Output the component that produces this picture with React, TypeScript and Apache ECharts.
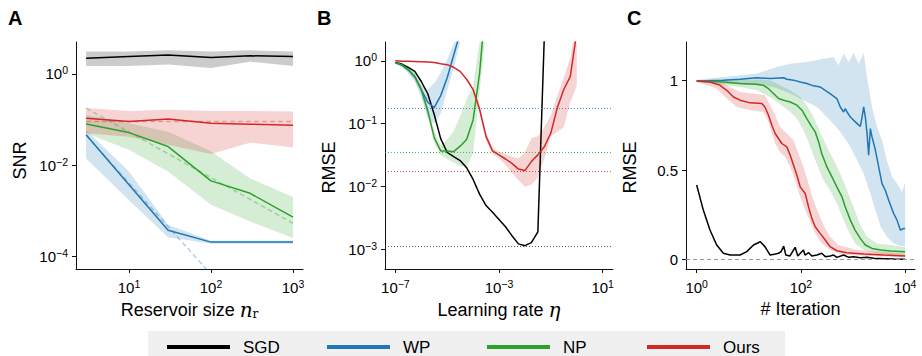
import React, { useEffect, useRef } from 'react';
import * as echarts from 'echarts';

const FONT = '"Liberation Sans", Arial, Helvetica, sans-serif';
const SERIF = '"DejaVu Serif", "Liberation Serif", serif';

const C_SGD = '#000000';
const C_WP = '#1f77b4';
const C_NP = '#2ca02c';
const C_OURS = '#d62728';

// ---------------- Panel A: SNR vs reservoir size ----------------
const reservoirSizes = [3, 10, 30, 100, 300, 1000];
const snrSGD = [2.2, 2.4, 2.6, 2.3, 2.5, 2.4];
const snrSGDLow = [1.5, 1.5, 1.6, 1.35, 1.85, 1.5];
const snrSGDHigh = [3.1, 3.1, 3.3, 3.1, 3.3, 3.1];
const snrWP = [0.046, 0.0037, 0.00037, 0.000204, 0.000204, 0.000204];
const snrWPLow = [0.014, 0.0017, 0.00026, 0.000187, 0.000187, 0.000187];
const snrWPHigh = [0.059, 0.0072, 0.00049, 0.00022, 0.00022, 0.00022];
const snrNP = [0.08, 0.0516, 0.0255, 0.0045, 0.0024, 0.00072];
const snrNPLow = [0.05, 0.0216, 0.0072, 0.00134, 0.00058, 0.00025];
const snrNPHigh = [0.126, 0.083, 0.054, 0.02, 0.0051, 0.002];
const snrOurs = [0.107, 0.09, 0.103, 0.083, 0.079, 0.075];
const snrOursLow = [0.05, 0.042, 0.028, 0.0176, 0.031, 0.0244];
const snrOursHigh = [0.178, 0.154, 0.163, 0.154, 0.154, 0.149];
const theoryNP = [[3, 0.177], [1000, 0.00053]];
const theoryWP = [[3, 0.045], [1000, 4e-7]];
const theoryOurs = [[3, 0.09], [1000, 0.09]];
const ticksA_x = [1, 2, 3];
const ticksA_y = [-4, -2, 0];

// ---------------- Panel B: RMSE vs learning rate ----------------
const learningRates = [
  1e-7, 1.78e-7, 3.16e-7, 5.62e-7, 1e-6, 1.78e-6, 3.16e-6, 5.62e-6, 1e-5, 1.78e-5,
  3.16e-5, 5.62e-5, 1e-4, 1.78e-4, 3.16e-4, 5.62e-4, 1e-3, 1.78e-3, 3.16e-3, 5.62e-3,
  1e-2, 1.78e-2, 3.16e-2, 5.62e-2, 1e-1, 0.178, 0.316, 0.562, 1,
];
const rmseSGD = [0.94, 0.89, 0.79, 0.68, 0.47, 0.3, 0.14, 0.058, 0.035, 0.03, 0.026, 0.02, 0.013, 0.0076, 0.005, 0.0039, 0.003, 0.0023, 0.00166, 0.00123, 0.00115, 0.00129, 0.0019, 2.5];
const rmseWP = [0.93, 0.85, 0.72, 0.56, 0.35, 0.22, 0.18, 0.28, 0.54, 1.23, 2.8];
const rmseWPLow = [0.91, 0.81, 0.63, 0.47, 0.26, 0.126, 0.1, 0.145, 0.34, 0.76, 2.0];
const rmseWPHigh = [0.98, 0.89, 0.76, 0.63, 0.42, 0.35, 0.44, 0.65, 1.05, 1.82, 4.0];
const rmseNP = [0.93, 0.87, 0.72, 0.56, 0.35, 0.16, 0.06, 0.037, 0.037, 0.036, 0.044, 0.056, 0.115, 0.63, 10];
const rmseNPLow = [0.91, 0.83, 0.68, 0.5, 0.3, 0.13, 0.05, 0.032, 0.0275, 0.024, 0.021, 0.021, 0.034, 0.32, 3.2];
const rmseNPHigh = [0.95, 0.93, 0.79, 0.63, 0.4, 0.19, 0.076, 0.045, 0.056, 0.076, 0.13, 0.24, 0.4, 2.0, 32];
const rmseOurs = [1.0, 0.99, 0.99, 0.98, 0.97, 0.955, 0.94, 0.9, 0.87, 0.79, 0.68, 0.51, 0.35, 0.17, 0.063, 0.037, 0.032, 0.0275, 0.0234, 0.019, 0.018, 0.025, 0.032, 0.043, 0.071, 0.18, 0.35, 0.56, 2.8];
const oursBandStart = 12; // band drawn from learningRates[12]
const rmseOursLow = [0.32, 0.15, 0.055, 0.033, 0.028, 0.022, 0.0166, 0.0126, 0.01, 0.0107, 0.014, 0.028, 0.063, 0.074, 0.089, 0.22, 0.4];
const rmseOursHigh = [0.38, 0.2, 0.072, 0.042, 0.036, 0.033, 0.03, 0.028, 0.035, 0.059, 0.063, 0.089, 0.135, 0.28, 0.54, 1.12, 4.0];
const bestRMSE = { SGD: 0.00113, WP: 0.177, NP: 0.0352, Ours: 0.0175 };
const ticksB_x = [-7, -3, 1];
const ticksB_y = [-3, -2, -1, 0];

// ---------------- Panel C: RMSE vs iteration ----------------
const iterSGD = [[1, 0.417], [1.34, 0.277], [1.8, 0.166], [2.42, 0.082], [3.25, 0.036], [4.37, 0.026], [6.81, 0.026], [9.16, 0.045], [12.3, 0.082], [16.6, 0.1], [20.4, 0.073], [25.7, 0.026], [32.4, 0.032], [37.2, 0.036], [41.7, 0.045], [46.8, 0.076], [51.3, 0.026], [61.7, 0.021], [77.6, 0.069], [87.1, 0.021], [112, 0.054], [120, 0.026], [141, 0.039], [162, 0.021], [204, 0.026], [251, 0.036], [295, 0.017], [363, 0.021], [427, 0.026], [490, 0.013], [661, 0.026], [832, 0.013], [1023, 0.017], [1380, 0.011], [1862, 0.013], [2512, 0.0074], [3890, 0.0056], [6026, 0.0037], [10000, 0.002]];
const iterOurs = [[1, 0.998], [1.8, 0.993], [2.81, 0.974], [3.77, 0.946], [5.07, 0.909], [6.81, 0.891], [10.6, 0.876], [17.8, 0.872], [20.4, 0.853], [23.9, 0.807], [27.7, 0.751], [32.1, 0.705], [37.2, 0.677], [43.1, 0.649], [53.7, 0.63], [62.4, 0.584], [72.3, 0.528], [83.8, 0.472], [97, 0.407], [121, 0.37], [140, 0.296], [162, 0.231], [188, 0.184], [234, 0.147], [293, 0.11], [363, 0.073], [490, 0.05], [759, 0.039], [1622, 0.032], [3890, 0.026], [10000, 0.021]];
const iterOursHigh = [[1, 1.003], [3.25, 0.984], [6.81, 0.937], [14.1, 0.925], [20.4, 0.919], [25.7, 0.863], [32.1, 0.807], [39.8, 0.742], [53.7, 0.704], [72.3, 0.667], [90.2, 0.593], [112, 0.518], [140, 0.425], [174, 0.332], [219, 0.258], [272, 0.193], [363, 0.128], [525, 0.082], [1202, 0.054], [10000, 0.035]];
const iterOursLow = [[1, 0.993], [2.42, 0.956], [3.77, 0.9], [5.89, 0.853], [10.6, 0.835], [19.1, 0.825], [23.9, 0.77], [27.7, 0.705], [32.1, 0.649], [39.8, 0.602], [49.9, 0.574], [62.4, 0.518], [77.8, 0.444], [97, 0.351], [121, 0.277], [151, 0.212], [188, 0.147], [251, 0.091], [363, 0.054], [661, 0.026], [10000, 0.013]];
const iterNP = [[1, 0.998], [3.25, 0.993], [6.81, 0.984], [14.1, 0.98], [19.1, 0.974], [23.9, 0.955], [29.8, 0.928], [37.2, 0.9], [46.8, 0.891], [62.4, 0.881], [83.8, 0.863], [105, 0.835], [130, 0.788], [162, 0.742], [188, 0.714], [219, 0.658], [251, 0.593], [316, 0.518], [394, 0.463], [490, 0.407], [614, 0.351], [708, 0.296], [891, 0.221], [1096, 0.165], [1380, 0.119], [1726, 0.082], [2317, 0.063], [3388, 0.054], [5248, 0.048], [10000, 0.045]];
const iterNPHigh = [[1, 1.003], [14.1, 1.007], [25.7, 1.003], [39.8, 0.974], [62.4, 0.946], [97, 0.909], [130, 0.863], [174, 0.798], [234, 0.714], [316, 0.63], [427, 0.556], [570, 0.481], [767, 0.388], [1023, 0.295], [1380, 0.193], [1862, 0.128], [2884, 0.091], [5248, 0.082], [10000, 0.069]];
const iterNPLow = [[1, 0.993], [6.81, 0.965], [14.1, 0.946], [22.1, 0.918], [32.1, 0.891], [46.8, 0.853], [62.4, 0.825], [83.8, 0.788], [112, 0.723], [140, 0.658], [174, 0.584], [219, 0.509], [272, 0.444], [363, 0.388], [490, 0.314], [661, 0.221], [832, 0.156], [1096, 0.091], [1622, 0.054], [2884, 0.035], [10000, 0.02]];
const iterWP = [[1, 0.998], [3.25, 1.003], [6.81, 1.008], [14.1, 1.016], [25.7, 1.012], [46.8, 1.016], [53.7, 1.008], [72.3, 1.003], [97, 0.993], [130, 0.984], [174, 0.971], [234, 0.965], [293, 0.946], [363, 0.928], [490, 0.9], [570, 0.853], [661, 0.825], [713, 0.844], [767, 0.825], [891, 0.797], [1107, 0.77], [1380, 0.745], [1479, 0.788], [1603, 0.853], [1726, 0.797], [1862, 0.704], [1995, 0.584], [2153, 0.732], [2317, 0.686], [2692, 0.611], [3112, 0.518], [3606, 0.425], [4169, 0.388], [4842, 0.332], [6026, 0.258], [6998, 0.221], [8128, 0.165], [9333, 0.174], [10000, 0.174]];
const iterWPHigh = [[1, 1.005], [3.25, 1.02], [14.1, 1.039], [34.5, 1.076], [62.4, 1.095], [130, 1.104], [272, 1.123], [427, 1.132], [525, 1.086], [661, 1.151], [826, 1.104], [1023, 1.155], [1288, 1.095], [1603, 1.155], [1862, 1.021], [2317, 0.853], [2884, 0.742], [3606, 0.667], [4467, 0.556], [5623, 0.463], [6998, 0.425], [8710, 0.38], [10000, 0.43]];
const iterWPLow = [[1, 0.993], [3.25, 0.984], [14.1, 0.974], [29.8, 0.965], [62.4, 0.928], [112, 0.891], [204, 0.853], [363, 0.779], [570, 0.714], [891, 0.63], [1202, 0.556], [1603, 0.481], [2153, 0.37], [2692, 0.277], [3388, 0.184], [4467, 0.128], [6026, 0.091], [8128, 0.076], [10000, 0.073]];
const ticksC_x = [0, 2, 4];
const ticksC_y = [0, 0.5, 1];

const legendNames = ['SGD', 'WP', 'NP', 'Ours'];

// ---------------- helpers ----------------
const lg = Math.log10;
const logXY = (xs: number[], ys: number[]) => ys.map((y, i) => [lg(xs[i]), lg(y)]);
const logPairs = (p: number[][]) => p.map(([x, y]) => [lg(x), lg(y)]);
const logXPairs = (p: number[][]) => p.map(([x, y]) => [lg(x), y]);

const rgba = (hex: string, a: number) => {
  const n = parseInt(hex.slice(1), 16);
  return `rgba(${(n >> 16) & 255},${(n >> 8) & 255},${n & 255},${a})`;
};

function band(gi: number, upper: number[][], lower: number[][], color: string) {
  return {
    type: 'custom',
    name: 'band',
    xAxisIndex: gi,
    yAxisIndex: gi,
    silent: true,
    z: 1,
    clip: true,
    data: [upper[0]],
    encode: { x: 0, y: 1 },
    renderItem: (params: any, api: any) => {
      const pts = upper.map((p) => api.coord(p)).concat(lower.slice().reverse().map((p) => api.coord(p)));
      const cs = params.coordSys;
      return {
        type: 'polygon',
        shape: { points: pts },
        style: { fill: rgba(color, 0.2), stroke: 'none' },
        clipPath: { type: 'rect', shape: { x: cs.x, y: cs.y, width: cs.width, height: cs.height } },
      };
    },
  };
}

function line(name: string, gi: number, data: number[][], color: string, extra: any = {}) {
  return {
    type: 'line',
    name,
    xAxisIndex: gi,
    yAxisIndex: gi,
    data,
    showSymbol: false,
    symbol: 'none',
    clip: true,
    z: 3,
    silent: true,
    lineStyle: { color, width: 1.5 },
    itemStyle: { color },
    emphasis: { disabled: true },
    ...extra,
  };
}

function bestLine(value: number, color: string) {
  return {
    silent: true,
    symbol: ['none', 'none'],
    label: { show: false },
    lineStyle: { color: rgba(color, 0.8), width: 1, type: [1, 2] },
    data: [{ yAxis: lg(value) }],
  };
}

const supText = (v: number) => {
  const e = Math.round(v);
  return `{b|10}{s|${e < 0 ? '\u2212' + -e : e}}`;
};
const supRich = {
  b: { fontSize: 15, fontFamily: FONT, color: '#000', lineHeight: 18 },
  s: { fontSize: 10.5, fontFamily: FONT, color: '#000', lineHeight: 11, verticalAlign: 'top' },
};
const nameRich = {
  i: { fontSize: 20, fontFamily: SERIF, fontStyle: 'italic', color: '#000' },
  r: { fontSize: 12, fontFamily: SERIF, color: '#000', verticalAlign: 'bottom', lineHeight: 14 },
};

const axisCommon = {
  type: 'value',
  splitLine: { show: false },
  axisLine: { show: true, onZero: false, lineStyle: { color: '#111', width: 1 } },
  nameTextStyle: { fontSize: 18, fontFamily: FONT, color: '#000', rich: nameRich },
};

function xAxis(gi: number, min: number, max: number, ticks: number[], name: string, logLabels: boolean) {
  return {
    ...axisCommon,
    gridIndex: gi,
    min,
    max,
    axisTick: { show: true, length: 4, customValues: ticks, lineStyle: { color: '#111', width: 1 } },
    axisLabel: {
      customValues: ticks,
      margin: 9,
      formatter: logLabels ? supText : (v: number) => String(v),
      rich: supRich,
      fontSize: 15,
      fontFamily: FONT,
      color: '#000',
    },
    name,
    nameLocation: 'middle',
    nameGap: 31,
  };
}

function yAxis(gi: number, min: number, max: number, ticks: number[], name: string, logLabels: boolean, pad: number) {
  return {
    ...axisCommon,
    gridIndex: gi,
    min,
    max,
    axisTick: { show: true, length: 4, customValues: ticks, lineStyle: { color: '#111', width: 1 } },
    axisLabel: {
      customValues: ticks,
      margin: 8,
      formatter: logLabels ? supText : (v: number) => String(v),
      rich: supRich,
      fontSize: 15,
      fontFamily: FONT,
      color: '#000',
    },
    name,
    nameLocation: 'middle',
    nameRotate: 90,
    nameGap: 47,
    nameTextStyle: { fontSize: 18, fontFamily: FONT, color: '#000', padding: [0, pad, 0, 0] },
  };
}

function buildOption() {
  const series: any[] = [];
  // Panel A
  series.push(band(0, logXY(reservoirSizes, snrSGDHigh), logXY(reservoirSizes, snrSGDLow), C_SGD));
  series.push(band(0, logXY(reservoirSizes, snrWPHigh), logXY(reservoirSizes, snrWPLow), C_WP));
  series.push(band(0, logXY(reservoirSizes, snrNPHigh), logXY(reservoirSizes, snrNPLow), C_NP));
  series.push(band(0, logXY(reservoirSizes, snrOursHigh), logXY(reservoirSizes, snrOursLow), C_OURS));
  series.push(line('SGD', 0, logXY(reservoirSizes, snrSGD), C_SGD));
  series.push(line('WP', 0, logXY(reservoirSizes, snrWP), C_WP));
  series.push(line('NP', 0, logXY(reservoirSizes, snrNP), C_NP));
  series.push(line('Ours', 0, logXY(reservoirSizes, snrOurs), C_OURS));
  series.push(line('theory WP', 0, logPairs(theoryWP), rgba(C_WP, 0.35), { z: 2, lineStyle: { color: rgba(C_WP, 0.35), width: 1.5, type: [5, 3] } }));
  series.push(line('theory NP', 0, logPairs(theoryNP), rgba(C_NP, 0.35), { z: 2, lineStyle: { color: rgba(C_NP, 0.35), width: 1.5, type: [5, 3] } }));
  series.push(line('theory Ours', 0, logPairs(theoryOurs), rgba(C_OURS, 0.35), { z: 2, lineStyle: { color: rgba(C_OURS, 0.35), width: 1.5, type: [5, 3] } }));

  // Panel B
  const lrWP = learningRates.slice(0, rmseWP.length);
  const lrNP = learningRates.slice(0, rmseNP.length);
  const lrOursBand = learningRates.slice(oursBandStart, oursBandStart + rmseOursLow.length);
  series.push(band(1, logXY(lrWP, rmseWPHigh), logXY(lrWP, rmseWPLow), C_WP));
  series.push(band(1, logXY(lrNP, rmseNPHigh), logXY(lrNP, rmseNPLow), C_NP));
  series.push(band(1, logXY(lrOursBand, rmseOursHigh), logXY(lrOursBand, rmseOursLow), C_OURS));
  series.push(line('SGD', 1, logXY(learningRates, rmseSGD), C_SGD, { markLine: bestLine(bestRMSE.SGD, '#333333') }));
  series.push(line('WP', 1, logXY(learningRates, rmseWP), C_WP, { markLine: bestLine(bestRMSE.WP, C_WP) }));
  series.push(line('NP', 1, logXY(learningRates, rmseNP), C_NP, { markLine: bestLine(bestRMSE.NP, C_NP) }));
  series.push(line('Ours', 1, logXY(learningRates, rmseOurs), C_OURS, { markLine: bestLine(bestRMSE.Ours, C_OURS) }));

  // Panel C
  series.push(band(2, logXPairs(iterWPHigh), logXPairs(iterWPLow), C_WP));
  series.push(band(2, logXPairs(iterNPHigh), logXPairs(iterNPLow), C_NP));
  series.push(band(2, logXPairs(iterOursHigh), logXPairs(iterOursLow), C_OURS));
  series.push(
    line('SGD', 2, logXPairs(iterSGD), C_SGD, {
      markLine: {
        silent: true,
        symbol: ['none', 'none'],
        label: { show: false },
        lineStyle: { color: '#999', width: 1, type: [4, 3] },
        data: [{ yAxis: 0 }],
      },
    })
  );
  series.push(line('WP', 2, logXPairs(iterWP), C_WP));
  series.push(line('NP', 2, logXPairs(iterNP), C_NP));
  series.push(line('Ours', 2, logXPairs(iterOurs), C_OURS));

  const letter = (t: string, x: number) => ({
    type: 'text',
    x,
    y: 8,
    silent: true,
    style: { text: t, fontSize: 20, fontWeight: 'bold', fontFamily: FONT, fill: '#000', verticalAlign: 'top' },
  });

  return {
    animation: false,
    backgroundColor: '#ffffff',
    textStyle: { fontFamily: FONT },
    grid: [
      { left: 76, top: 42, width: 227, height: 227 },
      { left: 385, top: 42, width: 228, height: 227 },
      { left: 686, top: 42, width: 229, height: 227 },
    ],
    xAxis: [
      xAxis(0, 0.354, 3.122, ticksA_x, 'Reservoir size {i|n}{r|r}', true),
      xAxis(1, -7.4, 1.4, ticksB_x, 'Learning rate {i|\u03b7}', true),
      xAxis(2, -0.205, 4.19, ticksC_x, '# Iteration', true),
    ],
    yAxis: [
      yAxis(0, -4.28, 0.7, ticksA_y, 'SNR', true, 10),
      yAxis(1, -3.31, 0.3, ticksB_y, 'RMSE', true, 24),
      yAxis(2, -0.052, 1.216, ticksC_y, 'RMSE', false, 24),
    ],
    legend: {
      data: legendNames,
      left: 148,
      top: 331,
      orient: 'horizontal',
      icon: 'rect',
      itemWidth: 63,
      itemHeight: 4,
      itemGap: 34,
      selectedMode: false,
      backgroundColor: '#f0f0f0',
      borderRadius: 0,
      padding: [6, 12, 14, 19],
      textStyle: { fontSize: 17, fontFamily: FONT, color: '#000', width: 50, padding: [0, 0, 0, 8], lineHeight: 20 },
    },
    graphic: [letter('A', 8), letter('B', 317), letter('C', 627)],
    series,
  };
}

export default function App() {
  const ref = useRef<HTMLDivElement>(null);
  useEffect(() => {
    if (!ref.current) return;
    const chart = echarts.init(ref.current, null, { renderer: 'svg' });
    chart.setOption(buildOption() as any);
    return () => chart.dispose();
  }, []);
  return <div ref={ref} style={{ position: 'fixed', left: 0, top: 0, width: 922, height: 356, background: '#fff' }} />;
}
